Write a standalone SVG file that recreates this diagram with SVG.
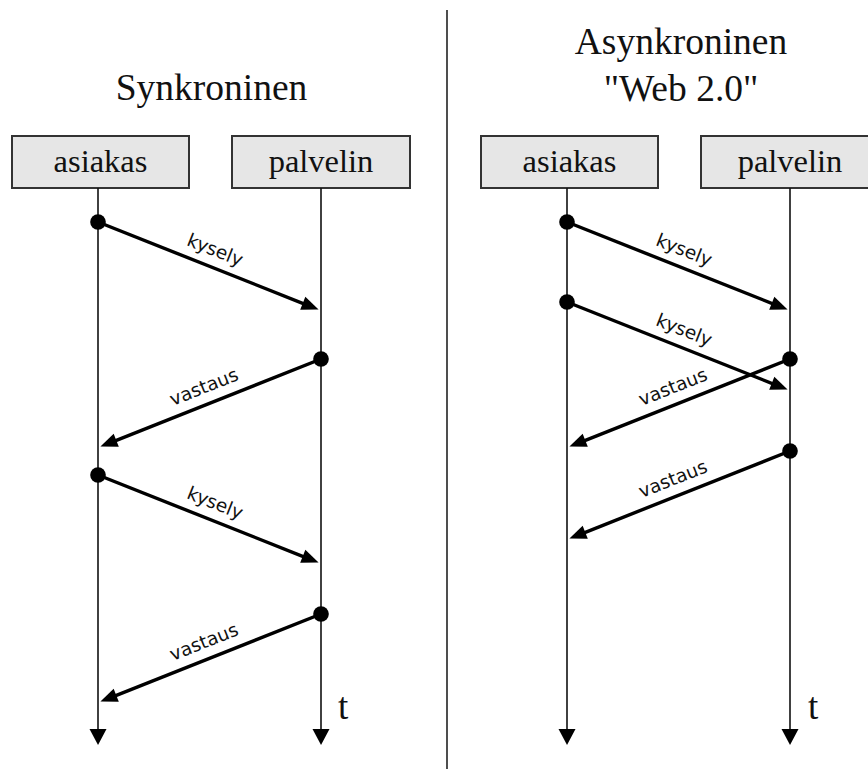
<svg xmlns="http://www.w3.org/2000/svg" width="868" height="769" viewBox="0 0 868 769">
  <style>
    .title { font-family: "Liberation Serif", "Times New Roman", serif; font-size: 37.5px; fill: #111; text-anchor: middle; }
    .box rect { fill: #e6e6e6; stroke: #333; stroke-width: 2; }
    .box text { font-family: "Liberation Serif", "Times New Roman", serif; font-size: 32.5px; fill: #111; text-anchor: middle; }
    .life { stroke: #111; stroke-width: 1.6; fill: none; marker-end: url(#timeHead); }
    .msg { stroke: #000; stroke-width: 3.4; fill: none; marker-end: url(#msgHead); }
    .dot { fill: #000; }
    .lbl { font-family: "DejaVu Sans", Verdana, sans-serif; font-size: 18.5px; fill: #111; text-anchor: middle; }
    .tlbl { font-family: "Liberation Serif", "Times New Roman", serif; font-size: 37px; fill: #111; }
    .divider { stroke: #222; stroke-width: 1.6; }
  </style>
  <defs>
    <marker id="msgHead" markerUnits="userSpaceOnUse" viewBox="0 -8 17 16" refX="8" refY="0" markerWidth="17" markerHeight="16" orient="auto" overflow="visible">
      <path d="M0,-7 L17,0 L0,7 Z" fill="#000"/>
    </marker>
    <marker id="timeHead" markerUnits="userSpaceOnUse" viewBox="0 -8 15 16" refX="5" refY="0" markerWidth="15" markerHeight="16" orient="auto" overflow="visible">
      <path d="M0,-8.5 L16,0 L0,8.5 Z" fill="#000"/>
    </marker>
  </defs>

  <rect width="868" height="769" fill="#fff"/>

  <!-- section separator -->
  <line class="divider" x1="447" y1="10" x2="447" y2="769"/>

  <!-- headings -->
  <text class="title" x="211.5" y="100">Synkroninen</text>
  <text class="title" x="681" y="54">Asynkroninen</text>
  <text class="title" x="681" y="101">"Web 2.0"</text>

  <!-- participants -->
  <g id="sync-client" class="box">
    <rect x="12" y="136" width="177" height="52"/>
    <text x="100.5" y="172">asiakas</text>
  </g>
  <g id="sync-server" class="box">
    <rect x="232" y="136" width="178" height="52"/>
    <text x="321" y="172">palvelin</text>
  </g>
  <g id="async-client" class="box">
    <rect x="481" y="136" width="177" height="52"/>
    <text x="569.5" y="172">asiakas</text>
  </g>
  <g id="async-server" class="box">
    <rect x="701" y="136" width="178" height="52"/>
    <text x="790" y="172">palvelin</text>
  </g>

  <g id="connectors">
    <!-- lifelines (time flows downward) -->
    <line class="life" x1="98" y1="188" x2="98" y2="734"/>
    <line class="life" x1="321" y1="188" x2="321" y2="734"/>
    <line class="life" x1="567" y1="188" x2="567" y2="734"/>
    <line class="life" x1="790" y1="188" x2="790" y2="734"/>

    <!-- synchronous exchange -->
    <line class="msg" x1="98" y1="222" x2="310.2" y2="306.3"/>
    <circle class="dot" cx="98" cy="222" r="7.8"/>
    <text class="lbl" transform="translate(208.75 266) rotate(21.67)" y="-11">kysely</text>

    <line class="msg" x1="321" y1="359" x2="108.8" y2="443.3"/>
    <circle class="dot" cx="321" cy="359" r="7.8"/>
    <text class="lbl" transform="translate(210.25 403) rotate(-21.67)" y="-11">vastaus</text>

    <line class="msg" x1="98" y1="475" x2="310.2" y2="559.3"/>
    <circle class="dot" cx="98" cy="475" r="7.8"/>
    <text class="lbl" transform="translate(208.75 519) rotate(21.67)" y="-11">kysely</text>

    <line class="msg" x1="321" y1="614" x2="108.8" y2="698.3"/>
    <circle class="dot" cx="321" cy="614" r="7.8"/>
    <text class="lbl" transform="translate(210.25 658) rotate(-21.67)" y="-11">vastaus</text>

    <!-- asynchronous exchange -->
    <line class="msg" x1="567" y1="222" x2="779.2" y2="306.3"/>
    <circle class="dot" cx="567" cy="222" r="7.8"/>
    <text class="lbl" transform="translate(677.75 266) rotate(21.67)" y="-11">kysely</text>

    <line class="msg" x1="567" y1="302" x2="779.2" y2="386.3"/>
    <circle class="dot" cx="567" cy="302" r="7.8"/>
    <text class="lbl" transform="translate(677.75 346) rotate(21.67)" y="-11">kysely</text>

    <line class="msg" x1="790" y1="359" x2="577.8" y2="443.3"/>
    <circle class="dot" cx="790" cy="359" r="7.8"/>
    <text class="lbl" transform="translate(679.25 403) rotate(-21.67)" y="-11">vastaus</text>

    <line class="msg" x1="790" y1="451" x2="577.8" y2="535.3"/>
    <circle class="dot" cx="790" cy="451" r="7.8"/>
    <text class="lbl" transform="translate(679.25 495) rotate(-21.67)" y="-11">vastaus</text>
  </g>

  <!-- time axis labels -->
  <text class="tlbl" x="338" y="719">t</text>
  <text class="tlbl" x="808" y="719">t</text>
</svg>
